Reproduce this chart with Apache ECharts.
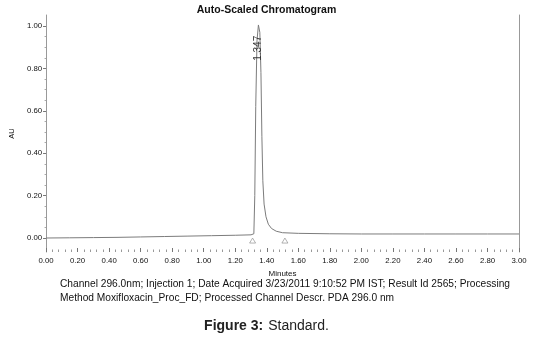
<!DOCTYPE html>
<html>
<head>
<meta charset="utf-8">
<script src="https://cdn.jsdelivr.net/npm/echarts@6/dist/echarts.min.js"></script>
<style>html,body{margin:0;padding:0;background:#fff;}#c{width:533px;height:345px;}</style>
</head>
<body>
<div id="c"></div>
<script>
// ---- data ----
const times = [0.00, 0.15, 0.30, 0.45, 0.60, 0.75, 0.90, 1.05, 1.20, 1.300, 1.318, 1.324, 1.330, 1.338, 1.347, 1.356, 1.363, 1.369, 1.375, 1.383, 1.395, 1.41, 1.43, 1.46, 1.50, 1.60, 1.80, 2.00, 2.20, 2.40, 2.60, 2.80, 3.00];
const absorbance = [0.000, 0.001, 0.002, 0.003, 0.005, 0.007, 0.009, 0.011, 0.013, 0.015, 0.02, 0.20, 0.62, 0.93, 1.005, 0.97, 0.78, 0.48, 0.27, 0.16, 0.10, 0.065, 0.045, 0.032, 0.025, 0.022, 0.020, 0.019, 0.019, 0.019, 0.019, 0.019, 0.019];
const markerTimes = [1.31, 1.515];
const markerValues = [-0.012, -0.012];
const peakTimes = [1.347];
const peakNames = ['1.347'];
const yTicks = [0.00, 0.20, 0.40, 0.60, 0.80, 1.00];
const yMinorTicks = [0.05, 0.10, 0.15, 0.25, 0.30, 0.35, 0.45, 0.50, 0.55, 0.65, 0.70, 0.75, 0.85, 0.90, 0.95];
const xTickLabels = ['0.00','0.20','0.40','0.60','0.80','1.00','1.20','1.40','1.60','1.80','2.00','2.20','2.40','2.60','2.80','3.00'];

const FONT = 'Liberation Sans';
const chart = echarts.init(document.getElementById('c'), null, {renderer: 'canvas'});
const lineData = times.map((t, i) => [t, absorbance[i]]);
const markerData = markerTimes.map((t, i) => [t, markerValues[i]]);

chart.setOption({
  animation: false,
  backgroundColor: '#fff',
  textStyle: {fontFamily: FONT},
  title: [
    {text: 'Auto-Scaled Chromatogram', left: 'center', top: 0,
     textStyle: {fontFamily: FONT, fontSize: 10.5, fontWeight: 'bold', color: '#111'}},
    {text: 'Channel 296.0nm; Injection 1; Date Acquired 3/23/2011 9:10:52 PM IST; Result Id 2565; Processing\nMethod Moxifloxacin_Proc_FD; Processed Channel Descr. PDA 296.0 nm',
     left: 55, top: 272,
     textStyle: {fontFamily: FONT, fontSize: 10.2, fontWeight: 'normal', color: '#111', lineHeight: 14}},
    {text: '{b|Figure 3:} {n|Standard.}', left: 'center', top: 312,
     textStyle: {rich: {
       b: {fontFamily: FONT, fontSize: 14, fontWeight: 'bold', color: '#222'},
       n: {fontFamily: FONT, fontSize: 14, fontWeight: 'normal', color: '#222'}}}}
  ],
  grid: {left: 42, right: 14, top: 15, bottom: 93, containLabel: false},
  xAxis: {
    type: 'value', min: 0, max: 3, interval: 0.2,
    name: 'Minutes', nameLocation: 'middle', nameGap: 14,
    nameTextStyle: {fontFamily: FONT, fontSize: 8, color: '#111'},
    axisLine: {show: false, onZero: false},
    axisTick: {show: true, inside: true, length: 4, lineStyle: {color: '#777', width: 1}},
    minorTick: {show: true, splitNumber: 5, length: 2.5, lineStyle: {color: '#999', width: 1}},
    splitLine: {show: false},
    axisLabel: {fontFamily: FONT, fontSize: 7.8, color: '#111', margin: 5,
      formatter: v => xTickLabels[Math.round(v / 0.2)] || ''}
  },
  yAxis: [
    {type: 'value', min: -0.066, max: 1.052, position: 'left',
     name: 'AU', nameLocation: 'middle', nameGap: 25, nameRotate: 90,
     nameTextStyle: {fontFamily: FONT, fontSize: 7.5, color: '#111'},
     axisLine: {show: true, onZero: false, lineStyle: {color: '#999', width: 1}},
     axisTick: {show: true, length: 3, customValues: yTicks, lineStyle: {color: '#777'}},
     axisLabel: {fontFamily: FONT, fontSize: 7.8, color: '#111', margin: 4,
       customValues: yTicks, formatter: v => v.toFixed(2)},
     splitLine: {show: false}},
    {type: 'value', min: -0.066, max: 1.052, position: 'left',
     axisLine: {show: false, onZero: false},
     axisTick: {show: true, length: 1.5, customValues: yMinorTicks, lineStyle: {color: '#aaa'}},
     axisLabel: {show: false}, splitLine: {show: false}},
    {type: 'value', min: -0.066, max: 1.052, position: 'right',
     axisLine: {show: true, onZero: false, lineStyle: {color: '#999', width: 1}},
     axisTick: {show: false}, axisLabel: {show: false}, splitLine: {show: false}}
  ],
  series: [
    {type: 'line', data: lineData, showSymbol: false, symbol: 'none',
     lineStyle: {color: '#7c7c7c', width: 1}, silent: true,
     markPoint: {
       symbol: 'rect', symbolSize: 0,
       data: peakTimes.map((t, i) => ({coord: [t, 0.895], value: peakNames[i]})),
       label: {show: true, position: 'inside', rotate: 90, formatter: p => p.value,
         fontFamily: FONT, fontSize: 10, color: '#333'}
     }},
    {type: 'scatter', data: markerData, symbol: 'triangle', symbolSize: [6, 5], clip: false,
     itemStyle: {color: 'rgba(0,0,0,0)', borderColor: '#888', borderWidth: 0.8}, silent: true}
  ]
});
</script>
</body>
</html>
